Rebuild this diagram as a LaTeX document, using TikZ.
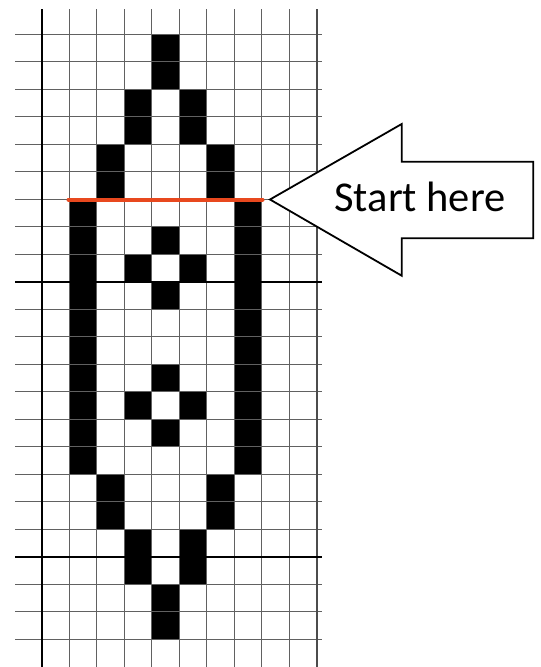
\documentclass[tikz,border=0pt]{standalone}
\usepackage{fontspec}
\newfontfamily\calib{Carlito}
\begin{document}
\begin{tikzpicture}[x=1pt,y=-1pt,
  gridthin/.style={draw=black!62,line width=1.1pt},
  gridthick/.style={draw=black,line width=1.6pt},
  cellfill/.style={fill=black},
  redline/.style={draw={rgb,255:red,232;green,72;blue,30},line width=4pt,line cap=round},
  arrowbox/.style={draw=black,line width=1.8pt,fill=white,line join=miter},
  labeltext/.style={font=\calib\fontsize{42.5}{46}\selectfont,inner sep=0pt}]
\useasboundingbox (0,0) rectangle (541,667);
\fill[white] (0,0) rectangle (541,667);
% black cells
\newcommand{\bcell}[2]{\fill[cellfill] ({41.7+27.5*#1},{34.3+27.5*#2}) rectangle ++(27.5,27.5);}
\bcell{4}{0}\bcell{4}{1}
\bcell{3}{2}\bcell{3}{3}\bcell{5}{2}\bcell{5}{3}
\bcell{2}{4}\bcell{2}{5}\bcell{6}{4}\bcell{6}{5}
\foreach \r in {6,...,15}{\bcell{1}{\r}\bcell{7}{\r}}
\bcell{4}{7}\bcell{3}{8}\bcell{5}{8}\bcell{4}{9}
\bcell{4}{12}\bcell{3}{13}\bcell{5}{13}\bcell{4}{14}
\bcell{2}{16}\bcell{2}{17}\bcell{6}{16}\bcell{6}{17}
\bcell{3}{18}\bcell{3}{19}\bcell{5}{18}\bcell{5}{19}
\bcell{4}{20}\bcell{4}{21}
% grid
\foreach \k in {0,...,22}{\draw[gridthin] (15,{34.3+27.5*\k}) -- (322,{34.3+27.5*\k});}
\foreach \k in {1,...,9}{\draw[gridthin] ({41.7+27.5*\k},9) -- ({41.7+27.5*\k},667);}
\draw[gridthick] (41.7,9) -- (41.7,667);
\draw[gridthick,draw=black!70] (316.9,9) -- (316.9,667);
\draw[gridthick] (15,281.8) -- (322,281.8);
\draw[gridthick] (15,556.8) -- (322,556.8);
% red start line
\coordinate (rs) at (68.5,199.5);
\coordinate (re) at (262.5,199.5);
\draw[redline] (rs) -- (re);
% arrow
\coordinate (tip) at (270,199.5);
\draw[arrowbox] (tip) -- (401.7,124) -- (401.7,161.7) -- (533.3,161.7) -- (533.3,238.3) -- (401.7,238.3) -- (401.7,275.7) -- cycle;
\node[labeltext,anchor=base] (start) at (420,211.7) {Start here};
\end{tikzpicture}
\end{document}
